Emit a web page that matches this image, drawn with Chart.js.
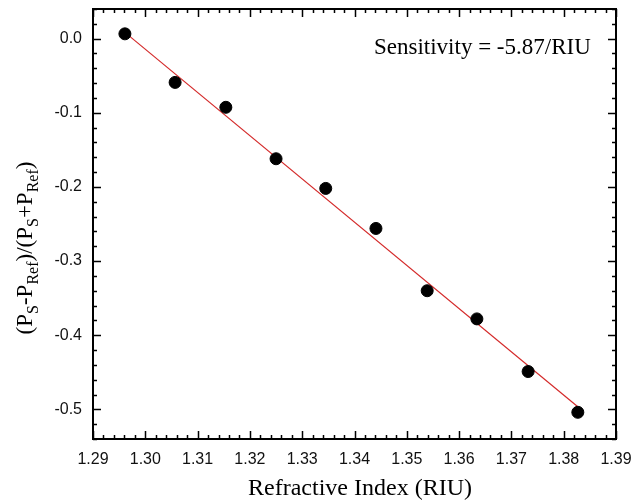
<!DOCTYPE html>
<html>
<head>
<meta charset="utf-8">
<script src="https://cdn.jsdelivr.net/npm/chart.js@4"></script>
<style>
  html, body { margin: 0; padding: 0; background: #fff; }
  #wrap { width: 634px; height: 500px; }
</style>
</head>
<body>
<div id="wrap"><canvas id="myChart" width="634" height="500"></canvas></div>
<script>
// measured points: refractive index vs normalised power difference
const riu = [1.2961, 1.3057, 1.3154, 1.3250, 1.3345, 1.3441, 1.3539, 1.3634, 1.3732, 1.3827];
const contrast = [0.0065, -0.059, -0.0926, -0.162, -0.202, -0.256, -0.340, -0.378, -0.449, -0.504];

// linear fit end points
const fitX = [1.2961, 1.3827];
const fitY = [0.0085, -0.4965];

const xTicks = [1.29, 1.30, 1.31, 1.32, 1.33, 1.34, 1.35, 1.36, 1.37, 1.38, 1.39];
const yTicks = [0.0, -0.1, -0.2, -0.3, -0.4, -0.5];

const serif = "'Liberation Serif', 'Times New Roman', serif";
const sans = "'Liberation Sans', Arial, sans-serif";

// fixed axis box sizes, no extra room for overhanging labels
function fixBox(size) {
  return s => {
    if (s.isHorizontal()) s.height = size; else s.width = size;
    s.paddingLeft = s.paddingRight = s.paddingTop = s.paddingBottom = 0;
  };
}

// box frame with inward major/minor ticks on all four sides
const frame = {
  id: 'frame',
  afterDatasetsDraw(chart) {
    const { ctx, chartArea: a, scales: { x, y } } = chart;
    ctx.save();
    ctx.strokeStyle = '#000';
    ctx.lineWidth = 1.5;
    ctx.beginPath();
    for (let i = 0; i <= 50; i++) {
      const px = Math.round(x.getPixelForValue(1.29 + i * 0.002)) + 0.5;
      const len = i % 5 === 0 ? 8 : 4;
      ctx.moveTo(px, a.bottom); ctx.lineTo(px, a.bottom - len);
      ctx.moveTo(px, a.top); ctx.lineTo(px, a.top + len);
    }
    for (let i = 0; i <= 29; i++) {
      const v = 0.04 - i * 0.02;
      const py = Math.round(y.getPixelForValue(v)) + 0.5;
      const len = Math.round(v * 50) % 5 === 0 ? 8 : 4;
      ctx.moveTo(a.left, py); ctx.lineTo(a.left + len, py);
      ctx.moveTo(a.right, py); ctx.lineTo(a.right - len, py);
    }
    ctx.stroke();
    ctx.lineWidth = 2;
    ctx.strokeRect(a.left, a.top, a.right - a.left, a.bottom - a.top);
    ctx.restore();
  }
};

// titles and the sensitivity note
const labels = {
  id: 'labels',
  afterDraw(chart) {
    const { ctx } = chart;
    ctx.save();
    ctx.fillStyle = '#000';
    ctx.textBaseline = 'alphabetic';

    ctx.font = '23px ' + serif;
    ctx.textAlign = 'left';
    ctx.fillText('Sensitivity = -5.87/RIU', 374, 54);

    ctx.font = '24px ' + serif;
    ctx.textAlign = 'center';
    ctx.fillText('Refractive Index (RIU)', 360, 495);

    // y title with subscripts, rotated
    const parts = [
      ['(P', 0], ['S', 1], ['-P', 0], ['Ref', 1], [')/(P', 0], ['S', 1], ['+P', 0], ['Ref', 1], [')', 0]
    ];
    const mainFont = '23px ' + serif;
    const subFont = '16px ' + serif;
    ctx.textAlign = 'left';
    let total = 0;
    parts.forEach(p => { ctx.font = p[1] ? subFont : mainFont; total += ctx.measureText(p[0]).width; });
    ctx.translate(32, 248);
    ctx.rotate(-Math.PI / 2);
    let pos = -total / 2;
    parts.forEach(p => {
      ctx.font = p[1] ? subFont : mainFont;
      ctx.fillText(p[0], pos, p[1] ? 6 : 0);
      pos += ctx.measureText(p[0]).width;
    });
    ctx.restore();
  }
};

const ctx = document.getElementById('myChart').getContext('2d');
const myChart = new Chart(ctx, {
  type: 'scatter',
  data: {
    datasets: [{
      label: 'fit',
      type: 'line',
      data: fitX.map((v, i) => ({ x: v, y: fitY[i] })),
      borderColor: '#d42a2a',
      borderWidth: 1.2,
      pointRadius: 0,
      fill: false,
      order: 2
    }, {
      label: 'data',
      data: riu.map((v, i) => ({ x: v, y: contrast[i] })),
      backgroundColor: '#000',
      borderColor: '#000',
      pointRadius: 6,
      order: 1
    }]
  },
  options: {
    responsive: false,
    animation: false,
    layout: { autoPadding: false, padding: { top: 9, right: 18, left: 0, bottom: 0 } },
    plugins: { legend: { display: false }, tooltip: { enabled: false } },
    scales: {
      x: {
        type: 'linear',
        min: 1.29,
        max: 1.39,
        grid: { display: false, drawTicks: false },
        border: { display: false },
        afterBuildTicks: s => { s.ticks = xTicks.map(v => ({ value: v })); },
        afterFit: fixBox(61),
        ticks: {
          padding: 11,
          color: '#111',
          font: { family: sans, size: 16 },
          maxRotation: 0,
          callback: v => v.toFixed(2)
        }
      },
      y: {
        type: 'linear',
        min: -0.54,
        max: 0.04,
        grid: { display: false, drawTicks: false },
        border: { display: false },
        afterBuildTicks: s => { s.ticks = yTicks.map(v => ({ value: v })); },
        afterFit: fixBox(93),
        ticks: {
          padding: 11,
          color: '#111',
          font: { family: sans, size: 16 },
          callback: v => v.toFixed(1)
        }
      }
    }
  },
  plugins: [frame, labels]
});
</script>
</body>
</html>
